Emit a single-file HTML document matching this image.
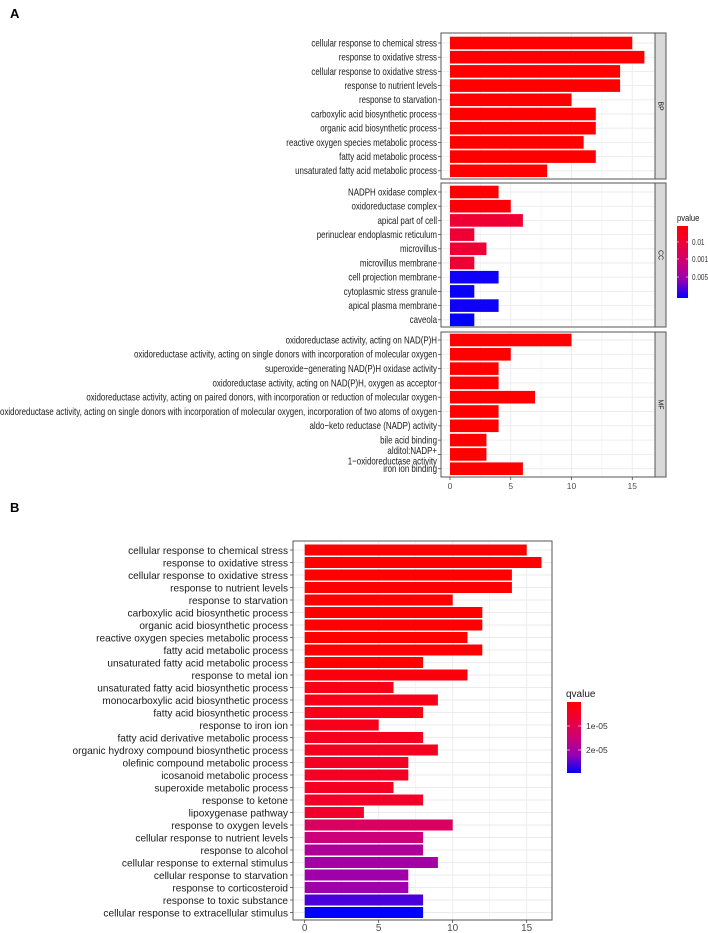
<!DOCTYPE html>
<html><head><meta charset="utf-8">
<style>
html,body{margin:0;padding:0;background:#fff;}
svg{display:block;font-family:"Liberation Sans",Arial,sans-serif;}
</style></head>
<body>
<svg id="fig" width="708" height="933" viewBox="0 0 708 933" xmlns="http://www.w3.org/2000/svg">
<text x="10" y="18" font-size="13" font-weight="bold">A</text>
<text x="10" y="512" font-size="13" font-weight="bold">B</text>
<g id="gA"></g>
<g id="gB"></g>
</svg>
<script>
// ---------- Panel A data ----------
const bpTerms = ["cellular response to chemical stress","response to oxidative stress","cellular response to oxidative stress","response to nutrient levels","response to starvation","carboxylic acid biosynthetic process","organic acid biosynthetic process","reactive oxygen species metabolic process","fatty acid metabolic process","unsaturated fatty acid metabolic process"];
const bpCounts = [15,16,14,14,10,12,12,11,12,8];
const bpPvalues = [0.0001,0.0001,0.0001,0.0001,0.0001,0.0001,0.0001,0.0001,0.0001,0.0001];
const ccTerms = ["NADPH oxidase complex","oxidoreductase complex","apical part of cell","perinuclear endoplasmic reticulum","microvillus","microvillus membrane","cell projection membrane","cytoplasmic stress granule","apical plasma membrane","caveola"];
const ccCounts = [4,5,6,2,3,2,4,2,4,2];
const ccPvalues = [0.0002,0.0008,0.0045,0.0045,0.0045,0.0045,0.019,0.0192,0.019,0.0195];
const mfTerms = ["oxidoreductase activity, acting on NAD(P)H","oxidoreductase activity, acting on single donors with incorporation of molecular oxygen","superoxide\u2212generating NAD(P)H oxidase activity","oxidoreductase activity, acting on NAD(P)H, oxygen as acceptor","oxidoreductase activity, acting on paired donors, with incorporation or reduction of molecular oxygen","oxidoreductase activity, acting on single donors with incorporation of molecular oxygen, incorporation of two atoms of oxygen","aldo\u2212keto reductase (NADP) activity","bile acid binding","alditol:NADP+|1\u2212oxidoreductase activity","iron ion binding"];
const mfCounts = [10,5,4,4,7,4,4,3,3,6];
const mfPvalues = [0.0001,0.0001,0.0001,0.0001,0.0001,0.0001,0.0001,0.0001,0.0001,0.0001];
const aTicks = [0,5,10,15];
const aLegendLabels = ["0.01","0.001","0.005"];
// ---------- Panel B data ----------
const bTerms = ["cellular response to chemical stress","response to oxidative stress","cellular response to oxidative stress","response to nutrient levels","response to starvation","carboxylic acid biosynthetic process","organic acid biosynthetic process","reactive oxygen species metabolic process","fatty acid metabolic process","unsaturated fatty acid metabolic process","response to metal ion","unsaturated fatty acid biosynthetic process","monocarboxylic acid biosynthetic process","fatty acid biosynthetic process","response to iron ion","fatty acid derivative metabolic process","organic hydroxy compound biosynthetic process","olefinic compound metabolic process","icosanoid metabolic process","superoxide metabolic process","response to ketone","lipoxygenase pathway","response to oxygen levels","cellular response to nutrient levels","response to alcohol","cellular response to external stimulus","cellular response to starvation","response to corticosteroid","response to toxic substance","cellular response to extracellular stimulus"];
const bCounts = [15,16,14,14,10,12,12,11,12,8,11,6,9,8,5,8,9,7,7,6,8,4,10,8,8,9,7,7,8,8];
const bQvalues = [1e-7,1e-7,1e-7,1e-7,1e-7,1e-7,1e-7,1e-7,1e-7,1e-7,1.5e-6,3e-6,3e-6,3e-6,3.5e-6,4e-6,4e-6,4.5e-6,4.5e-6,4.5e-6,5e-6,5.5e-6,1.2e-5,1.5e-5,1.9e-5,2e-5,2.1e-5,2.1e-5,2.6e-5,2.96e-5];
const bTicks = [0,5,10,15];
const bLegendLabels = ["1e-05","2e-05"];
const bLegendValues = [1e-5,2e-5];

const NS="http://www.w3.org/2000/svg";
function mk(tag,attrs,parent){const e=document.createElementNS(NS,tag);for(const k in attrs)e.setAttribute(k,attrs[k]);parent.appendChild(e);return e;}
const stops=[[255,0,0],[236,0,58],[205,0,118],[150,0,180],[0,0,255]];
function colorAt(t){t=Math.max(0,Math.min(1,t));const s=t*4;const i=Math.min(3,Math.floor(s));const f=s-i;const a=stops[i],b=stops[i+1];return "rgb("+a.map((v,k)=>Math.round(v+(b[k]-v)*f)).join(",")+")";}

// ---------- Panel A ----------
const gA=document.getElementById('gA');
const axA={x0:450,k:12.15,left:441,right:655,stripR:666};
const xA=v=>axA.x0+v*axA.k;
const facets=[
 {terms:bpTerms,counts:bpCounts,p:bpPvalues,top:33,bottom:179,first:43,step:14.2,lab:"BP",name:"bp"},
 {terms:ccTerms,counts:ccCounts,p:ccPvalues,top:183,bottom:327,first:192,step:14.2,lab:"CC",name:"cc"},
 {terms:mfTerms,counts:mfCounts,p:mfPvalues,top:332,bottom:477,first:340,step:14.3,lab:"MF",name:"mf"}];
const pMin=0.0001,pMax=0.0195;
facets.forEach(f=>{
  const fg=mk('g',{},gA);
  
  
  mk('rect',{x:axA.left,y:f.top,width:axA.right-axA.left,height:f.bottom-f.top,fill:'#fff'},fg);
  for(let v=0;v<=17.5;v+=2.5){const X=xA(v);if(X>axA.right)break;mk('line',{x1:X,x2:X,y1:f.top,y2:f.bottom,stroke:'#ebebeb','stroke-width':(v%5===0)?0.9:0.5},fg);}
  f.terms.forEach((t,i)=>{
    const y=f.first+i*f.step;
    mk('line',{x1:axA.left,x2:axA.right,y1:y,y2:y,stroke:'#ebebeb','stroke-width':0.9},fg);
  });
  f.terms.forEach((t,i)=>{
    const y=f.first+i*f.step;
    const r=mk('rect',{x:xA(0),y:y-6.3,width:xA(f.counts[i])-xA(0),height:12.6,fill:colorAt((f.p[i]-pMin)/(pMax-pMin))},fg);
    
    
    mk('line',{x1:axA.left-3,x2:axA.left,y1:y,y2:y,stroke:'#333','stroke-width':0.7},fg);
    const parts=t.split('|');
    parts.forEach((p,j)=>{
      const yy=parts.length>1?y-4+j*10.5:y;
      const tg=mk('g',{transform:'translate('+(axA.left-4)+','+(yy+3.4)+') scale(0.77,1)'},fg);
      const tx=mk('text',{x:0,y:0,'text-anchor':'end','font-size':'10.3',fill:'#1a1a1a'},tg);
      tx.textContent=p;
      
      
    });
  });
  mk('rect',{x:axA.left,y:f.top,width:axA.right-axA.left,height:f.bottom-f.top,fill:'none',stroke:'#555','stroke-width':1},fg);
  const st=mk('rect',{x:axA.right,y:f.top,width:axA.stripR-axA.right,height:f.bottom-f.top,fill:'#d9d9d9',stroke:'#555','stroke-width':1},fg);
  
  
  const cy=(f.top+f.bottom)/2;
  const sl=mk('text',{x:0,y:0,transform:'translate('+(axA.right+3.5)+','+cy+') rotate(90)','text-anchor':'middle','font-size':'7',fill:'#1a1a1a'},fg);
  sl.textContent=f.lab;
  
  
});
aTicks.forEach(v=>{
  mk('line',{x1:xA(v),x2:xA(v),y1:477,y2:480,stroke:'#333','stroke-width':0.7},gA);
  const t=mk('text',{x:xA(v),y:489,'text-anchor':'middle','font-size':'8.5',fill:'#4d4d4d'},gA);
  t.textContent=v;
  
  
});
// legend A
const defs=mk('defs',{},document.getElementById('fig'));
const gradA=mk('linearGradient',{id:'gradA',x1:0,y1:0,x2:0,y2:1},defs);
[0,0.25,0.5,0.75,1].forEach(o=>mk('stop',{offset:o,'stop-color':colorAt(o)},gradA));
const legA=mk('g',{},gA);


const lta=mk('text',{x:0,y:0,transform:'translate(677,221) scale(0.8,1)','font-size':'9.5',fill:'#1a1a1a'},legA);lta.textContent='pvalue';
mk('rect',{x:677,y:226,width:11,height:72,fill:'url(#gradA)'},legA);
[245,262,280].forEach((y,i)=>{
  mk('line',{x1:677,x2:679,y1:y-3,y2:y-3,stroke:'#fff','stroke-width':0.6},legA);
  mk('line',{x1:686,x2:688,y1:y-3,y2:y-3,stroke:'#fff','stroke-width':0.6},legA);
  const t=mk('text',{x:0,y:0,transform:'translate(692,'+y+') scale(0.8,1)','font-size':'8',fill:'#333'},legA);t.textContent=aLegendLabels[i];
});

// ---------- Panel B ----------
const gB=document.getElementById('gB');
const axB={x0:304.7,k:14.8,left:293,right:552,top:541,bottom:920,first:550,step:12.5};
const xB=v=>axB.x0+v*axB.k;
const yB=i=>axB.first+i*axB.step;
mk('rect',{x:axB.left,y:axB.top,width:axB.right-axB.left,height:axB.bottom-axB.top,fill:'#fff'},gB);
for(let v=0;v<=17.5;v+=2.5){const X=xB(v);if(X>axB.right)break;mk('line',{x1:X,x2:X,y1:axB.top,y2:axB.bottom,stroke:'#ebebeb','stroke-width':(v%5===0)?0.9:0.5},gB);}
bTerms.forEach((t,i)=>mk('line',{x1:axB.left,x2:axB.right,y1:yB(i),y2:yB(i),stroke:'#ebebeb','stroke-width':0.9},gB));
const qMin=0,qMax=2.96e-5;
bTerms.forEach((t,i)=>{
  const y=yB(i);
  const r=mk('rect',{x:xB(0),y:y-5.5,width:xB(bCounts[i])-xB(0),height:11,fill:colorAt((bQvalues[i]-qMin)/(qMax-qMin))},gB);
  
  
  mk('line',{x1:axB.left-3,x2:axB.left,y1:y,y2:y,stroke:'#333','stroke-width':0.7},gB);
  const tx=mk('text',{x:axB.left-5,y:y+3.8,'text-anchor':'end','font-size':'10.1',fill:'#1a1a1a'},gB);
  tx.textContent=t;
  
  
});
mk('rect',{x:axB.left,y:axB.top,width:axB.right-axB.left,height:axB.bottom-axB.top,fill:'none',stroke:'#555','stroke-width':1},gB);
bTicks.forEach(v=>{
  mk('line',{x1:xB(v),x2:xB(v),y1:axB.bottom,y2:axB.bottom+3,stroke:'#333','stroke-width':0.7},gB);
  const t=mk('text',{x:xB(v),y:931,'text-anchor':'middle','font-size':'10',fill:'#4d4d4d'},gB);
  t.textContent=v;
  
  
});
const legB=mk('g',{},gB);


const ltb=mk('text',{x:566,y:697,'font-size':'10',fill:'#1a1a1a'},legB);ltb.textContent='qvalue';
mk('rect',{x:567,y:702,width:14,height:71,fill:'url(#gradA)'},legB);
bLegendValues.forEach((q,i)=>{
  const y=702+(q-qMin)/(qMax-qMin)*71;
  mk('line',{x1:567,x2:570,y1:y,y2:y,stroke:'#fff','stroke-width':0.6},legB);
  mk('line',{x1:578,x2:581,y1:y,y2:y,stroke:'#fff','stroke-width':0.6},legB);
  const t=mk('text',{x:586,y:y+3,'font-size':'8.5',fill:'#333'},legB);t.textContent=bLegendLabels[i];
});
</script>
</body></html>
